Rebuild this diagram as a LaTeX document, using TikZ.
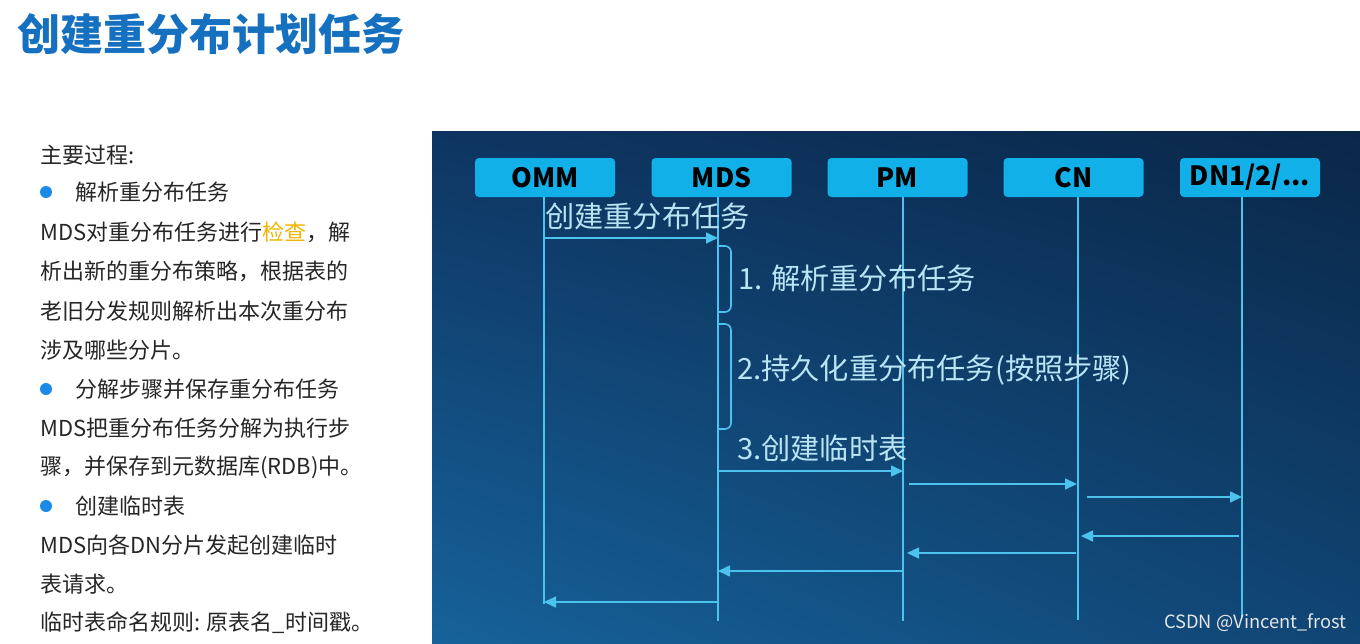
\documentclass[tikz,border=0pt]{standalone}
\usepackage{fontspec}
\setmainfont{Noto Sans CJK SC}
\newfontfamily\cjk{Noto Sans CJK SC}
\usetikzlibrary{arrows.meta,shadings}
\definecolor{titleblue}{HTML}{1570C0}
\definecolor{dotblue}{HTML}{1A8AE6}
\definecolor{gold}{HTML}{F0B400}
\definecolor{headfill}{HTML}{12B0E8}
\definecolor{seqline}{HTML}{4CC3EC}
\definecolor{seqtext}{HTML}{B8E4F4}
\definecolor{bgTL}{HTML}{0E3562}
\definecolor{bgTR}{HTML}{0A2748}
\definecolor{bgBL}{HTML}{16629A}
\definecolor{bgBR}{HTML}{104574}
\tikzset{
  lifehead/.style={fill=headfill, rounded corners=4pt, minimum width=140pt, minimum height=39pt, inner sep=0pt, font=\fontsize{26.5}{26.5}\selectfont\bfseries, text=black},
  life/.style={draw=seqline, line width=1.6pt},
  msg/.style={draw=seqline, line width=1.6pt, -{Triangle[length=12pt,width=11pt]}},
  seqlbl/.style={text=seqtext, font=\fontsize{29.2}{29.2}\selectfont, anchor=west, inner sep=0pt},
  body/.style={font=\fontsize{22}{22}\selectfont, anchor=west, inner sep=0pt, text=black!85},
  dot/.style={circle, fill=dotblue, minimum size=12pt, inner sep=0pt},
  brace/.style={draw=seqline, line width=1.6pt, rounded corners=6pt}
}
\begin{document}
\begin{tikzpicture}[x=1pt,y=-1pt]
\useasboundingbox (0,0) rectangle (1360,643);
\fill[white] (0,0) rectangle (1360,643);
% title
\node[anchor=west, inner sep=0pt, text=titleblue, font=\fontsize{43}{43}\selectfont\bfseries] (title) at (17,34) {创建重分布计划任务};
% left text
\node[body] (t0) at (40,155) {主要过程:};
\node[dot] (d1) at (46,192) {};
\node[body] (t1) at (75,192) {解析重分布任务};
\node[body] (t2) at (40,232) {MDS对重分布任务进行\textcolor{gold}{检查}，解};
\node[body] (t3) at (40,271) {析出新的重分布策略，根据表的};
\node[body] (t4) at (40,311) {老旧分发规则解析出本次重分布};
\node[body] (t5) at (40,350) {涉及哪些分片。};
\node[dot] (d2) at (46,389) {};
\node[body] (t6) at (75,389) {分解步骤并保存重分布任务};
\node[body] (t7) at (40,428) {MDS把重分布任务分解为执行步};
\node[body] (t8) at (40,467) {骤，并保存到元数据库(RDB)中。};
\node[dot] (d3) at (46,506) {};
\node[body] (t9) at (75,506) {创建临时表};
\node[body] (t10) at (40,545) {MDS向各DN分片发起创建临时};
\node[body] (t11) at (40,584) {表请求。};
\node[body] (t12) at (40,623) {临时表命名规则: 原表名\_时间戳。};
% panel
\shade[upper left=bgTL, upper right=bgTR, lower left=bgBL, lower right=bgBR] (432,131) rectangle (1360,643);
% heads
\node[lifehead] (omm) at (545,177.5) {OMM};
\node[lifehead] (mds) at (721.5,177.5) {MDS};
\node[lifehead] (pm) at (897.5,177.5) {PM};
\node[lifehead] (cn) at (1073.5,177.5) {CN};
\node[lifehead] (dn) at (1250,177.5) {DN1/2/...};
% lifeline ends
\coordinate (ommE) at (544,604);
\coordinate (mdsE) at (718,621);
\coordinate (pmE) at (903,621);
\coordinate (cnE) at (1078,620);
\coordinate (dnE) at (1242,617);
\draw[life] (omm.south -| ommE) -- (ommE);
\draw[life] (mds.south -| mdsE) -- (mdsE);
\draw[life] (pm.south -| pmE) -- (pmE);
\draw[life] (cn.south -| cnE) -- (cnE);
\draw[life] (dn.south -| dnE) -- (dnE);
% messages
\coordinate (m1a) at (544,238); \coordinate (m1b) at (718,238);
\draw[msg] (m1a) -- (m1b);
\node[seqlbl] (l1) at (545,216) {创建重分布任务};
\draw[brace] (718,246) -- (731,246) -- (731,312) -- (718,312);
\node[seqlbl] (l2) at (738,278) {1. 解析重分布任务};
\draw[brace] (718,324) -- (731,324) -- (731,429) -- (718,429);
\node[seqlbl] (l3) at (737,370) {2.持久化重分布任务(按照步骤)};
\coordinate (m2a) at (718,471); \coordinate (m2b) at (903,471);
\draw[msg] (m2a) -- (m2b);
\node[seqlbl] (l4) at (737,448) {3.创建临时表};
\coordinate (m3a) at (909,484); \coordinate (m3b) at (1077,484);
\draw[msg] (m3a) -- (m3b);
\coordinate (m4a) at (1087,497); \coordinate (m4b) at (1242,497);
\draw[msg] (m4a) -- (m4b);
\coordinate (m5a) at (1239,536); \coordinate (m5b) at (1081,536);
\draw[msg] (m5a) -- (m5b);
\coordinate (m6a) at (1076,553); \coordinate (m6b) at (907,553);
\draw[msg] (m6a) -- (m6b);
\coordinate (m7a) at (903,571); \coordinate (m7b) at (718,571);
\draw[msg] (m7a) -- (m7b);
\coordinate (m8a) at (718,602); \coordinate (m8b) at (544,602);
\draw[msg] (m8a) -- (m8b);
% watermark
\node[anchor=west, inner sep=0pt, text=white!80!gray, font=\fontsize{18.3}{18.3}\selectfont] (wm) at (1164,623) {CSDN @Vincent\_frost};
\end{tikzpicture}
\end{document}
